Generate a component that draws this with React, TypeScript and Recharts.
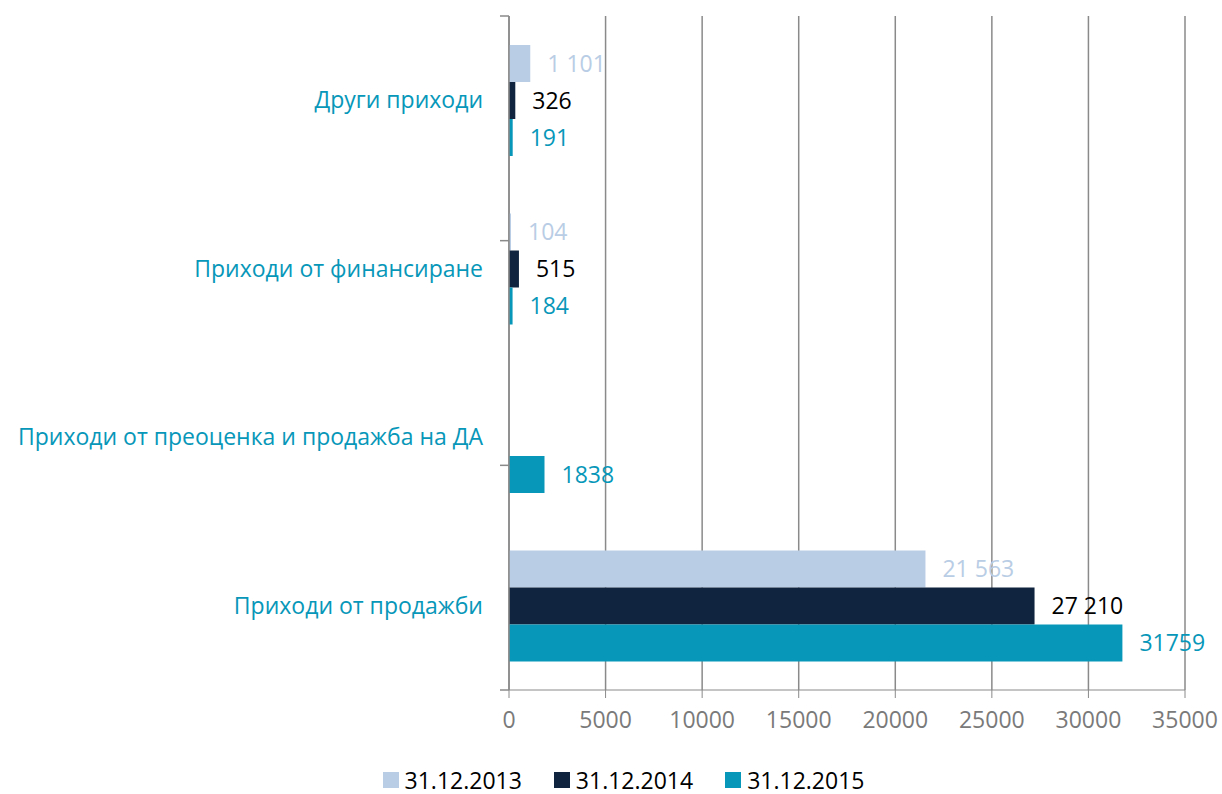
import { Bar, BarChart, CartesianGrid, LabelList, Legend, XAxis, YAxis } from "recharts";

const categories = [
  "Други приходи",
  "Приходи от финансиране",
  "Приходи от преоценка и продажба на ДА",
  "Приходи от продажби",
];
const y2013 = [1101, 104, null, 21563];
const y2014 = [326, 515, null, 27210];
const y2015 = [191, 184, 1838, 31759];
const xTicks = [0, 5000, 10000, 15000, 20000, 25000, 30000, 35000];
const edgeTicks = [0, 1, 2, 3, 4];

const C13 = "#b9cde5";
const C14 = "#10243f";
const C15 = "#0797b9";
const GRID = "#8a8a8a";
const FONT = "'Open Sans', 'Noto Sans', sans-serif";

const data = categories.map((name, i) => ({
  name,
  y2013: y2013[i],
  y2014: y2014[i],
  y2015: y2015[i],
}));

const spaced = (v: unknown) =>
  v == null ? "" : String(v).replace(/\B(?=(\d{3})+(?!\d))/g, " ");
const plain = (v: unknown) => (v == null ? "" : String(v));

function LegendRow({ payload }: any) {
  return (
    <div
      style={{
        display: "flex",
        justifyContent: "center",
        gap: 32,
        paddingLeft: 62,
        fontFamily: FONT,
        fontSize: 23,
      }}
    >
      {(payload ?? []).map((p: any) => (
        <div key={p.value} style={{ display: "flex", alignItems: "center", gap: 6, color: "#000" }}>
          <span style={{ width: 16, height: 16, background: p.color, display: "inline-block" }} />
          {p.value}
        </div>
      ))}
    </div>
  );
}

export default function App() {
  return (
    <div style={{ position: "absolute", left: 0, top: 0, background: "#fff" }}>
      <BarChart
        width={1222}
        height={794}
        data={data}
        layout="vertical"
        margin={{ top: 16, right: 37, bottom: 0, left: 0 }}
        barGap={0}
        barSize={37}
      >
        <CartesianGrid horizontal={false} stroke={GRID} strokeWidth={1.5} />
        <XAxis
          type="number"
          domain={[0, 35000]}
          ticks={xTicks}
          interval={0}
          height={74}
          tickSize={8}
          tickMargin={14}
          stroke={GRID}
          tick={{ fill: "#7a7a7a", fontSize: 23, fontFamily: FONT }}
        />
        {/* boundary ticks between categories */}
        <YAxis
          yAxisId="a"
          type="number"
          domain={[0, 4]}
          ticks={edgeTicks}
          interval={0}
          width={1}
          tickSize={9}
          stroke={GRID}
          strokeWidth={1.5}
          tickFormatter={() => ""}
        />
        <YAxis
          yAxisId="b"
          type="category"
          dataKey="name"
          width={508}
          tickSize={0}
          tickMargin={25}
          axisLine={false}
          tickLine={false}
          tick={{ fill: C15, fontSize: 23, fontFamily: FONT }}
        />
        <Legend verticalAlign="bottom" height={30} content={<LegendRow />} />
        <Bar yAxisId="b" dataKey="y2013" name="31.12.2013" fill={C13} isAnimationActive={false}>
          <LabelList dataKey="y2013" position="right" offset={17} formatter={spaced} fill={C13} fontSize={23} fontFamily={FONT} />
        </Bar>
        <Bar yAxisId="b" dataKey="y2014" name="31.12.2014" fill={C14} isAnimationActive={false}>
          <LabelList dataKey="y2014" position="right" offset={17} formatter={spaced} fill="#000" fontSize={23} fontFamily={FONT} />
        </Bar>
        <Bar yAxisId="b" dataKey="y2015" name="31.12.2015" fill={C15} isAnimationActive={false}>
          <LabelList dataKey="y2015" position="right" offset={17} formatter={plain} fill={C15} fontSize={23} fontFamily={FONT} />
        </Bar>
      </BarChart>
    </div>
  );
}
